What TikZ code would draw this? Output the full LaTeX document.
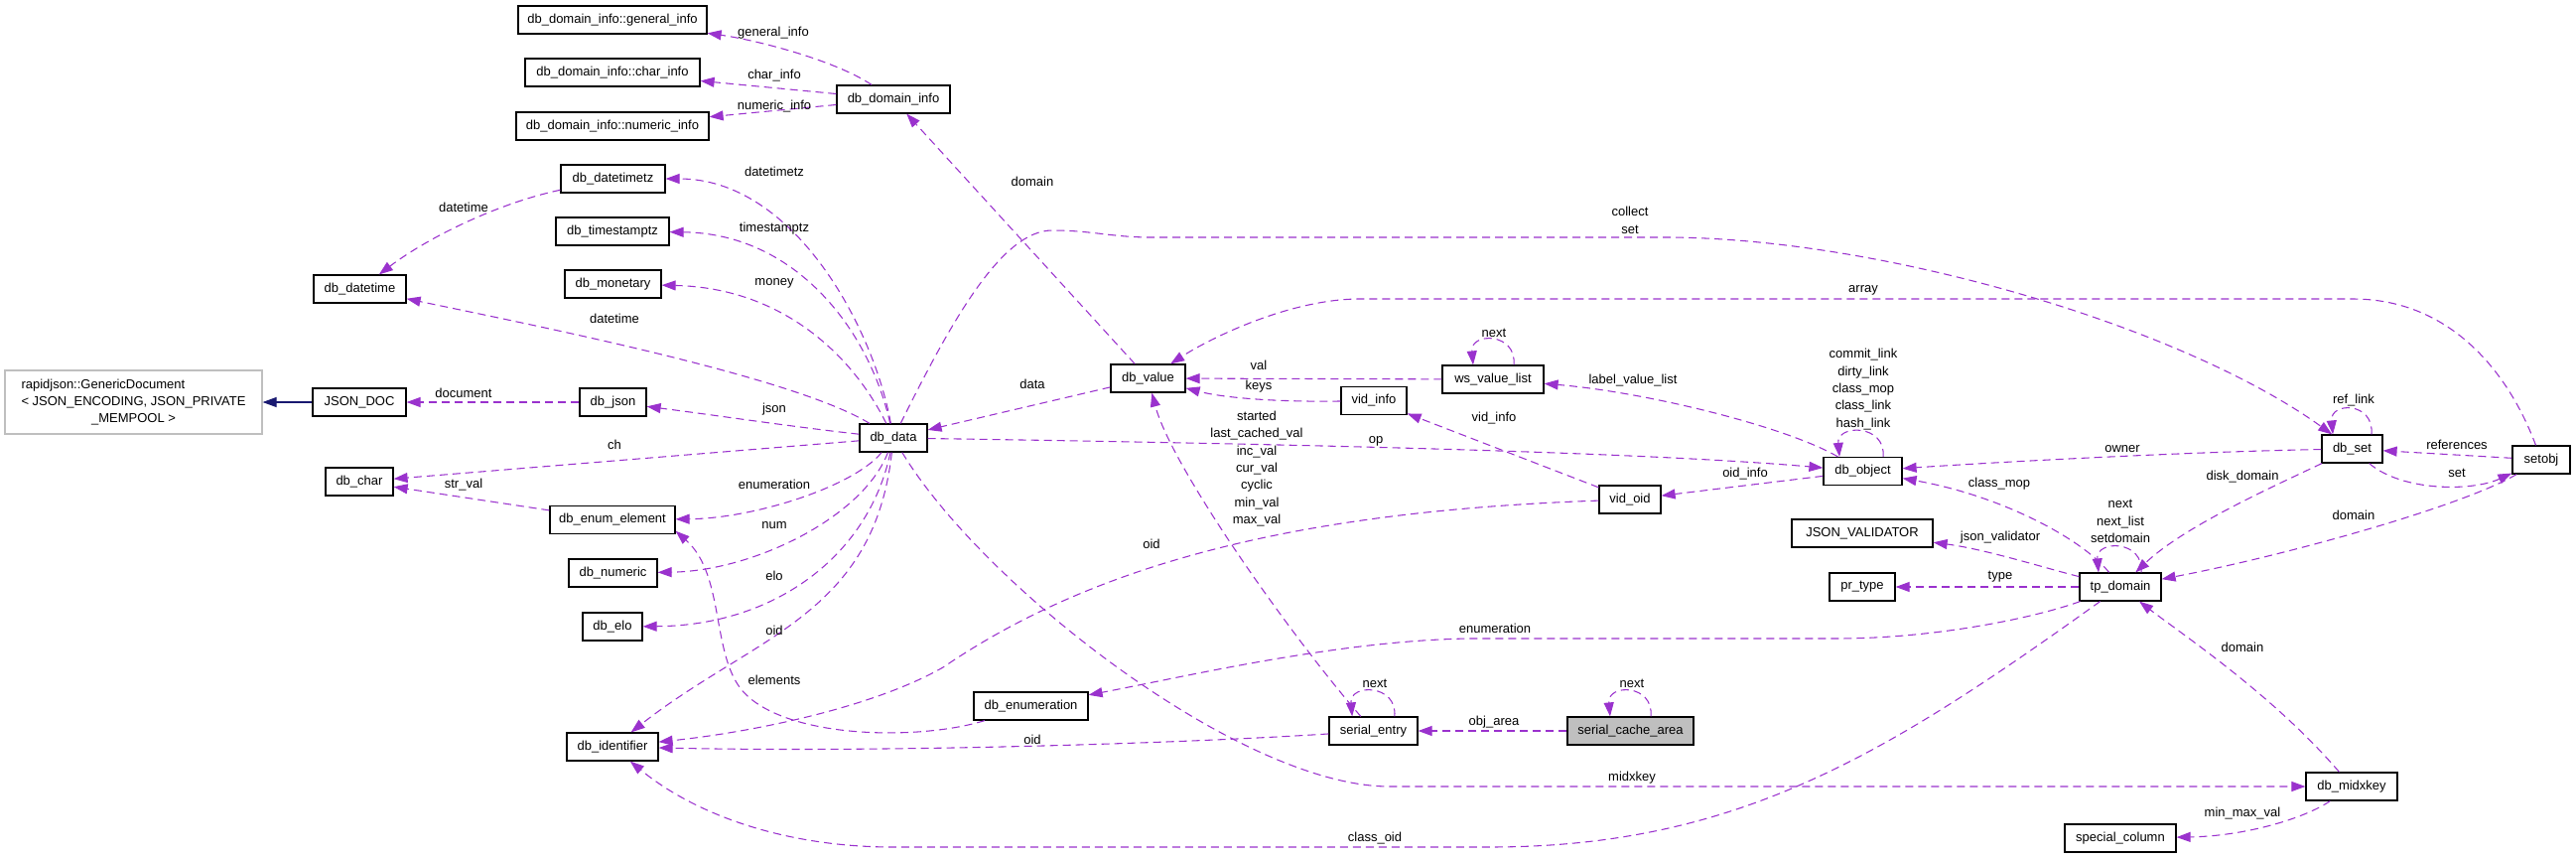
\documentclass[tikz,border=0pt]{standalone}
\usepackage{fontspec}
\setmainfont{Liberation Sans}
\usetikzlibrary{arrows.meta,calc}
\definecolor{edgec}{HTML}{9A32CD}
\definecolor{inhc}{HTML}{191970}
\definecolor{grayc}{HTML}{BFBFBF}
\begin{document}
\begin{tikzpicture}[x=0.75pt,y=-0.75pt,
  every node/.style={font=\fontsize{9.75}{13}\selectfont},
  box/.style={draw=black,line width=0.9pt,fill=white,minimum height=21pt,inner sep=0pt,anchor=center},
  edge/.style={draw=edgec,line width=0.8pt,dash pattern=on 6pt off 3.75pt,-{Triangle[length=10.5pt,width=7.5pt]}},
  inh/.style={draw=inhc,line width=0.8pt,-{Triangle[length=10.5pt,width=7.5pt]}},
  lbl/.style={inner sep=0pt,align=center}]
\useasboundingbox (0,0) rectangle (2595,864);
% nodes
\node[box,minimum width=142.5pt] (gen) at (617,20) {db\_domain\_info::general\_info};
\node[box,minimum width=132pt] (chr) at (617,73) {db\_domain\_info::char\_info};
\node[box,minimum width=145.5pt] (numi) at (617,127) {db\_domain\_info::numeric\_info};
\node[box,minimum width=85.5pt] (dinfo) at (900,100) {db\_domain\_info};
\node[box,minimum width=78.75pt] (dtz) at (617.5,180) {db\_datetimetz};
\node[box,minimum width=85.5pt] (tstz) at (617,233) {db\_timestamptz};
\node[box,minimum width=72.75pt] (money) at (617.5,286) {db\_monetary};
\node[box,minimum width=69.75pt] (dt) at (362.5,291) {db\_datetime};
\node[box,draw=grayc,minimum width=194.25pt,minimum height=48pt] (rj) at (134.5,405) {\begin{tabular}{@{}l@{}}rapidjson::GenericDocument\\< JSON\_ENCODING, JSON\_PRIVATE\\\multicolumn{1}{@{}c@{}}{\_MEMPOOL >}\end{tabular}};
\node[box,minimum width=70.5pt] (jdoc) at (362,405) {JSON\_DOC};
\node[box,minimum width=50.25pt] (json) at (617.5,405) {db\_json};
\node[box,minimum width=51pt] (data) at (900,441) {db\_data};
\node[box,minimum width=51pt] (dchar) at (362,485) {db\_char};
\node[box,minimum width=94.5pt] (enel) at (617,523.5) {db\_enum\_element};
\node[box,minimum width=66.75pt] (dnum) at (617.5,577) {db\_numeric};
\node[box,minimum width=45pt] (elo) at (617,631) {db\_elo};
\node[box,minimum width=69pt] (ident) at (617,752) {db\_identifier};
\node[box,minimum width=56.25pt] (val) at (1156.5,381) {db\_value};
\node[box,minimum width=76.5pt] (wsvl) at (1504,382) {ws\_value\_list};
\node[box,minimum width=49.5pt] (vinfo) at (1384,403.5) {vid\_info};
\node[box,minimum width=46.5pt] (vidoid) at (1642,503) {vid\_oid};
\node[box,minimum width=59.25pt] (obj) at (1876.5,474.5) {db\_object};
\node[box,minimum width=106.5pt] (jval) at (1876,537) {JSON\_VALIDATOR};
\node[box,minimum width=49.5pt] (prt) at (1876,591) {pr\_type};
\node[box,minimum width=86.25pt] (enm) at (1038.5,711) {db\_enumeration};
\node[box,minimum width=66.75pt] (sent) at (1383.5,736) {serial\_entry};
\node[box,fill=grayc,minimum width=95.25pt] (sca) at (1642.5,736) {serial\_cache\_area};
\node[box,minimum width=45.75pt] (dset) at (2369.5,452) {db\_set};
\node[box,minimum width=43.5pt] (setobj) at (2560,463) {setobj};
\node[box,minimum width=61.5pt] (tpd) at (2136,591) {tp\_domain};
\node[box,minimum width=69pt] (midx) at (2369,792) {db\_midxkey};
\node[box,minimum width=84pt] (spc) at (2136,844) {special\_column};
% edges
\draw[edge] (dinfo) .. controls (840,60) and (760,40) .. (gen);
\draw[edge] (dinfo) -- (chr);
\draw[edge] (dinfo) -- (numi);
\draw[edge] (dtz) .. controls (500,205) and (430,240) .. (dt);
\draw[edge] (data) .. controls (880,330) and (800,180) .. (dtz);
\draw[edge] (data) .. controls (875,330) and (800,235) .. (tstz);
\draw[edge] (data) .. controls (860,360) and (790,290) .. (money);
\draw[edge] (data) .. controls (800,380) and (550,330) .. (dt);
\draw[edge] (json) -- (jdoc);
\draw[inh] (jdoc) -- (rj);
\draw[edge] (data) .. controls (800,430) and (720,418) .. (json);
\draw[edge] (data) -- (dchar);
\draw[edge] (enel) -- (dchar);
\draw[edge] (data) .. controls (860,490) and (760,522) .. (enel);
\draw[edge] (data) .. controls (870,520) and (760,575) .. (dnum);
\draw[edge] (data) .. controls (875,560) and (780,630) .. (elo);
\draw[edge] (data) .. controls (880,620) and (760,640) .. (ident);
\draw[edge] (enm) .. controls (930,745) and (800,745) .. (752,700) .. controls (715,665) and (732,580) .. (enel.-10);
\draw[edge] (vidoid) .. controls (1300,515) and (1100,570) .. (950,672) .. controls (880,712) and (760,737) .. (ident);
\draw[edge] (sent) .. controls (1200,748) and (900,758) .. (ident);
\draw[edge] (tpd) .. controls (1900,760) and (1750,853) .. (1500,853) -- (900,853) .. controls (790,853) and (700,820) .. (ident);
\draw[edge] (val) -- (dinfo);
\draw[edge] (val) -- (data);
\draw[edge] (data) .. controls (960,320) and (1010,232) .. (1060,232) .. controls (1100,232) and (1120,239) .. (1160,239) -- (1680,239) .. controls (1900,240) and (2200,330) .. (dset);
\draw[edge] (setobj) .. controls (2525,370) and (2465,301) .. (2370,301) -- (1370,301) .. controls (1300,301) and (1220,340) .. (val);
\draw[edge] (wsvl) -- (val);
\draw[edge] ([xshift=15.75pt]wsvl.north) .. controls +(3,-33) and +(-3,-33) .. ([xshift=-15pt]wsvl.north);
\draw[edge] (vinfo) .. controls (1280,405) and (1230,400) .. (val);
\draw[edge] (sent) .. controls (1300,640) and (1180,470) .. (val);
\draw[edge] (obj) .. controls (1800,430) and (1660,395) .. (wsvl);
\draw[edge] (vidoid) -- (vinfo);
\draw[edge] (obj) -- (vidoid);
\draw[edge] (data) .. controls (1300,447) and (1650,455) .. (obj);
\draw[edge] ([xshift=15.4pt]obj.north) .. controls +(3,-33) and +(-3,-33) .. ([xshift=-17.6pt]obj.north);
\draw[edge] (dset) .. controls (2200,455) and (2000,466) .. (obj);
\draw[edge] (tpd) .. controls (2100,545) and (2020,500) .. (obj);
\draw[edge] (tpd) .. controls (2060,572) and (2000,553) .. (jval);
\draw[edge] (tpd) -- (prt);
\draw[edge] ([xshift=15.75pt]tpd.north) .. controls +(3,-33) and +(-3,-33) .. ([xshift=-16.5pt]tpd.north);
\draw[edge] (dset) .. controls (2290,490) and (2200,530) .. (tpd);
\draw[edge] (setobj) .. controls (2480,510) and (2300,560) .. (tpd);
\draw[edge] ([xshift=14.6pt]dset.north) .. controls +(3,-33) and +(-3,-33) .. ([xshift=-14.6pt]dset.north);
\draw[edge] (setobj) -- (dset);
\draw[edge] (dset) .. controls (2420,495) and (2490,495) .. (setobj);
\draw[edge] (tpd) .. controls (2050,622) and (1950,643) .. (1850,643) -- (1480,643) .. controls (1350,645) and (1200,680) .. (enm);
\draw[edge] ([xshift=16pt]sent.north) .. controls +(3,-33) and +(-3,-33) .. ([xshift=-16pt]sent.north);
\draw[edge] ([xshift=15.4pt]sca.north) .. controls +(3,-33) and +(-3,-33) .. ([xshift=-15.4pt]sca.north);
\draw[edge] (sca) -- (sent);
\draw[edge] (data) .. controls (990,590) and (1250,792) .. (1400,792) -- (midx);
\draw[edge] (midx) .. controls (2290,700) and (2200,640) .. (tpd);
\draw[edge] (midx) .. controls (2320,825) and (2260,842) .. (spc);
% labels
\node[lbl] (l1) at (779,33) {general\_info};
\node[lbl] (l2) at (780,76) {char\_info};
\node[lbl] (l3) at (780,107) {numeric\_info};
\node[lbl] (l4) at (780,173) {datetimetz};
\node[lbl] (l5) at (467,209) {datetime};
\node[lbl] (l6) at (780,230) {timestamptz};
\node[lbl] (l7) at (780,285) {money};
\node[lbl] (l8) at (619,321) {datetime};
\node[lbl] (l9) at (467,396) {document};
\node[lbl] (l10) at (780,412) {json};
\node[lbl] (l11) at (619,448) {ch};
\node[lbl] (l12) at (467,488) {str\_val};
\node[lbl] (l13) at (780,488) {enumeration};
\node[lbl] (l14) at (780,529) {num};
\node[lbl] (l15) at (780,580) {elo};
\node[lbl] (l16) at (780,635) {oid};
\node[lbl] (l17) at (780,685) {elements};
\node[lbl] (l18) at (1040,183) {domain};
\node[lbl] (l19) at (1642,222) {collect\\set};
\node[lbl] (l20) at (1877,292) {array};
\node[lbl] (l21) at (1505,335) {next};
\node[lbl] (l22) at (1268,368) {val};
\node[lbl] (l23) at (1268,389) {keys};
\node[lbl] (l24) at (1645,383) {label\_value\_list};
\node[lbl] (l25) at (1505,421) {vid\_info};
\node[lbl] (l26) at (1040,387) {data};
\node[lbl] (l27) at (1266,472) {started\\last\_cached\_val\\inc\_val\\cur\_val\\cyclic\\min\_val\\max\_val};
\node[lbl] (l28) at (1386,444) {op};
\node[lbl] (l29) at (1758,477) {oid\_info};
\node[lbl] (l30) at (1160,548) {oid};
\node[lbl] (l31) at (1506,633) {enumeration};
\node[lbl] (l32) at (1385,688) {next};
\node[lbl] (l33) at (1644,688) {next};
\node[lbl] (l34) at (1505,727) {obj\_area};
\node[lbl] (l35) at (1040,745) {oid};
\node[lbl] (l36) at (1644,783) {midxkey};
\node[lbl] (l37) at (1385,844) {class\_oid};
\node[lbl] (l38) at (1877,392) {commit\_link\\dirty\_link\\class\_mop\\class\_link\\hash\_link};
\node[lbl] (l39) at (2138,452) {owner};
\node[lbl] (l40) at (2475,448) {references};
\node[lbl] (l41) at (2014,487) {class\_mop};
\node[lbl] (l42) at (2259,480) {disk\_domain};
\node[lbl] (l43) at (2475,476) {set};
\node[lbl] (l44) at (2136,525) {next\\next\_list\\setdomain};
\node[lbl] (l45) at (2371,519) {domain};
\node[lbl] (l46) at (2015,541) {json\_validator};
\node[lbl] (l47) at (2015,581) {type};
\node[lbl] (l48) at (2259,652) {domain};
\node[lbl] (l49) at (2259,819) {min\_max\_val};
\node[lbl] (l50) at (2371,403) {ref\_link};
\end{tikzpicture}
\end{document}
